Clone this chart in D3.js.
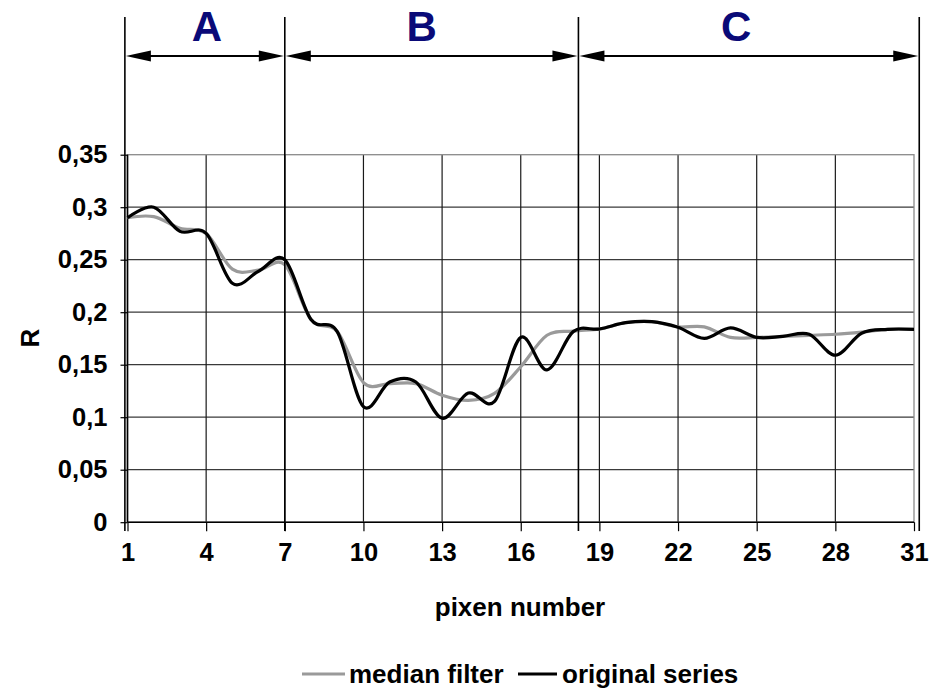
<!DOCTYPE html>
<html><head><meta charset="utf-8">
<script src="https://cdn.jsdelivr.net/npm/d3@7"></script>
<style>html,body{margin:0;padding:0;background:#fff;}svg{display:block;font-family:"Liberation Sans",Arial,sans-serif;font-weight:bold;}</style>
</head><body>
<svg id="c" width="943" height="689"></svg>
<script>
// ---- data ----
const pixels = d3.range(1, 32);
const originalSeries = [0.290, 0.300, 0.277, 0.275, 0.2275, 0.239, 0.250, 0.193, 0.1815, 0.110,
  0.1335, 0.1335, 0.099, 0.123, 0.115, 0.176, 0.145, 0.1815, 0.184, 0.190,
  0.191, 0.1856, 0.175, 0.185, 0.176, 0.177, 0.179, 0.159, 0.180, 0.1837, 0.1837];
const medianFilter = [0.290, 0.291, 0.280, 0.275, 0.241, 0.240, 0.245, 0.193, 0.1815, 0.133,
  0.132, 0.132, 0.121, 0.116, 0.1227, 0.148, 0.178, 0.182, 0.184, 0.190,
  0.191, 0.186, 0.186, 0.176, 0.176, 0.177, 0.178, 0.179, 0.181, 0.1837, 0.1837];
const xTicks = [1, 4, 7, 10, 13, 16, 19, 22, 25, 28, 31];
const yTicks = [0, 0.05, 0.1, 0.15, 0.2, 0.25, 0.3, 0.35];
const regionBounds = [0.9, 7, 18.2, 31.2];
const regionLabels = ["A", "B", "C"];
const regionLabelPos = [4.03, 12.22, 24.22];
const seriesNames = ["median filter", "original series"];

// ---- layout ----
const svg = d3.select("#c");
const x = d3.scaleLinear().domain([1, 31]).range([127.5, 914]);
const y = d3.scaleLinear().domain([0, 0.35]).range([522.2, 154.7]);
const fmt = d => d === 0 ? "0" : String(+d.toFixed(2)).replace(".", ",");

// gridlines
svg.append("g").selectAll("line").data(yTicks.filter(d => d > 0 && d < 0.35)).join("line")
  .attr("x1", x(1)).attr("x2", x(31)).attr("y1", d => y(d)).attr("y2", d => y(d))
  .attr("stroke", "#3a3a3a").attr("stroke-width", 1.2);
svg.append("g").selectAll("line").data(xTicks.filter(d => d > 1 && d < 31)).join("line")
  .attr("x1", d => x(d)).attr("x2", d => x(d)).attr("y1", y(0.35)).attr("y2", y(0))
  .attr("stroke", "#1a1a1a").attr("stroke-width", 1.2);
// plot border
svg.append("rect").attr("x", x(1)).attr("y", y(0.35)).attr("width", x(31) - x(1)).attr("height", y(0) - y(0.35))
  .attr("fill", "none").attr("stroke", "#8a8a8a").attr("stroke-width", 1.3);

// axes
const yAxis = svg.append("g").attr("transform", `translate(${x(1)},0)`)
  .call(d3.axisLeft(y).tickValues(yTicks).tickFormat(fmt).tickSize(7).tickPadding(13));
const xAxis = svg.append("g").attr("transform", `translate(0,${y(0)})`)
  .call(d3.axisBottom(x).tickValues(xTicks).tickFormat(d3.format("d")).tickSize(9).tickPadding(12));
[yAxis, xAxis].forEach(a => {
  a.select(".domain").attr("stroke", "#000").attr("stroke-width", 1.6);
  a.selectAll(".tick line").attr("stroke", "#000").attr("stroke-width", 1.2);
  a.selectAll("text").attr("font-size", 25.5).attr("font-weight", "bold")
    .attr("font-family", "'Liberation Sans',Arial,sans-serif").attr("fill", "#000");
});
yAxis.select(".domain").attr("d", `M0,${y(0)}V${y(0.35)}`);
xAxis.select(".domain").attr("d", `M${x(1)},0H${x(31)}`);

// series
const line = d3.line().x((d, i) => x(pixels[i])).y(d => y(d)).curve(d3.curveCardinal.tension(0));
svg.append("path").datum(medianFilter).attr("d", line).attr("fill", "none")
  .attr("stroke", "#9a9a9a").attr("stroke-width", 3.2);
svg.append("path").datum(originalSeries).attr("d", line).attr("fill", "none")
  .attr("stroke", "#000").attr("stroke-width", 3.2);

// region boundaries
svg.append("g").selectAll("line").data(regionBounds).join("line")
  .attr("x1", d => x(d)).attr("x2", d => x(d)).attr("y1", 17).attr("y2", 531)
  .attr("stroke", "#000").attr("stroke-width", 1.6);
// arrows
const ay = 56;
const arrows = svg.append("g");
regionLabels.forEach((lab, i) => {
  const a = x(regionBounds[i]) + 1, b = x(regionBounds[i + 1]) - 1;
  arrows.append("line").attr("x1", a + 20).attr("x2", b - 20).attr("y1", ay).attr("y2", ay)
    .attr("stroke", "#000").attr("stroke-width", 2);
  arrows.append("path").attr("d", `M${a},${ay}L${a + 25},${ay - 5.5}L${a + 25},${ay + 5.5}Z`).attr("fill", "#000");
  arrows.append("path").attr("d", `M${b},${ay}L${b - 25},${ay - 5.5}L${b - 25},${ay + 5.5}Z`).attr("fill", "#000");
});
svg.append("g").selectAll("text").data(regionLabels).join("text")
  .attr("x", (d, i) => x(regionLabelPos[i])).attr("y", 40.5).attr("text-anchor", "middle")
  .attr("font-size", 42).attr("font-weight", "bold").attr("fill", "#0a0a78").text(d => d);

// axis titles
svg.append("text").attr("transform", "translate(39,338) rotate(-90)").attr("text-anchor", "middle")
  .attr("font-size", 26).text("R");
svg.append("text").attr("x", 520).attr("y", 616).attr("text-anchor", "middle")
  .attr("font-size", 26).text("pixen number");

// legend
const leg = svg.append("g");
const legItems = [
  {name: seriesNames[0], color: "#9a9a9a", x1: 302, x2: 345, tx: 349},
  {name: seriesNames[1], color: "#000", x1: 518, x2: 557, tx: 562}
];
legItems.forEach(it => {
  leg.append("line").attr("x1", it.x1).attr("x2", it.x2).attr("y1", 674).attr("y2", 674)
    .attr("stroke", it.color).attr("stroke-width", 3.2);
  leg.append("text").attr("x", it.tx).attr("y", 683).attr("font-size", 26).text(it.name);
});
</script>
</body></html>
